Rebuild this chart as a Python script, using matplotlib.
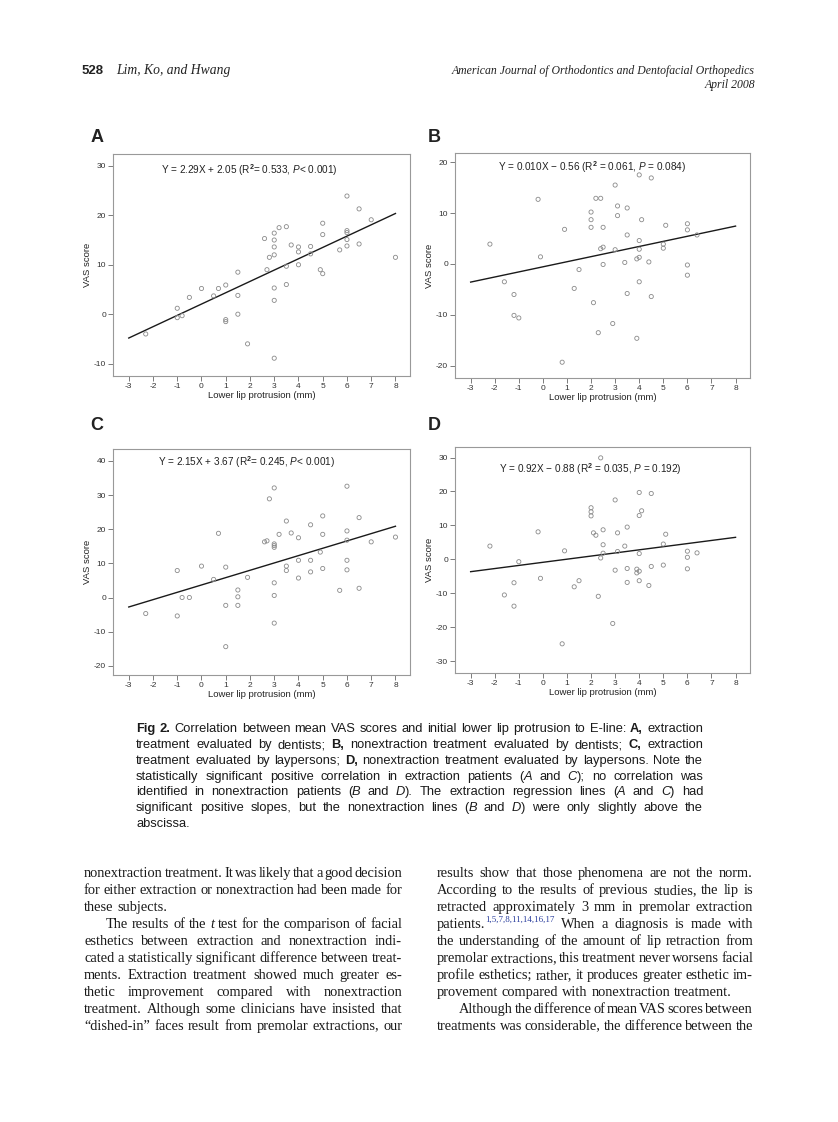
import re
import numpy as np
import matplotlib
matplotlib.use("Agg")
import matplotlib.pyplot as plt

W, H = 838, 1122

plt.rcParams['font.family'] = ['Liberation Sans', 'DejaVu Sans']
plt.rcParams['mathtext.fontset'] = 'custom'
plt.rcParams['mathtext.rm'] = 'Liberation Sans'
plt.rcParams['mathtext.it'] = 'Liberation Sans:italic'
plt.rcParams['mathtext.bf'] = 'Liberation Sans:bold'
plt.rcParams['axes.unicode_minus'] = False

# ---- data ----
x_ticks = [-3, -2, -1, 0, 1, 2, 3, 4, 5, 6, 7, 8]
fit_range = [-3, 8]

# A: extraction, dentists
a_x = [-2.3, -1, -1, -0.8, -0.5, 0, 0.5, 0.7, 1, 1, 1, 1.5, 1.5, 1.5, 1.9,
       2.6, 2.7, 2.8, 3, 3, 3, 3, 3, 3, 3, 3.2, 3.5, 3.5, 3.5, 3.7,
       4, 4, 4, 4.5, 4.5, 4.9, 5, 5, 5, 5.7, 6, 6, 6, 6, 6, 6.5, 6.5, 7, 8]
a_y = [-4, 1.2, -0.7, -0.3, 3.4, 5.2, 3.7, 5.2, 5.9, -1.1, -1.5, 8.5, 3.8, 0, -6,
       15.3, 9, 11.5, 16.4, 15, 13.6, 12, 5.3, 2.8, -8.9, 17.5, 17.7, 9.7, 6, 14,
       13.6, 12.6, 10, 13.7, 12.2, 9, 8.2, 18.4, 16.1, 13, 23.9, 16.9, 16.5, 15.1, 13.8,
       21.3, 14.2, 19.1, 11.5]
a_fit = (2.29, 2.05)
a_eq = r'Y = 2.29X + 2.05 (R$^{\mathbf{2}}$= 0.533, $P$< 0.001)'

# B: nonextraction, dentists
b_x = [-2.2, -1.6, -1.2, -1.2, -1.0, -0.2, -0.1, 0.9, 0.8, 1.3, 1.5,
       2, 2, 2, 2.1, 2.2, 2.4, 2.4, 2.5, 2.5, 2.5, 2.3, 2.9,
       3, 3, 3.1, 3.1, 3.5, 3.5, 3.5, 3.4, 3.9, 4, 4, 4, 4, 4, 3.9, 4.1,
       4.4, 4.5, 4.5, 5, 5, 5.1, 6, 6, 6, 6, 6.4]
b_y = [3.9, -3.5, -6.0, -10.1, -10.6, 12.7, 1.4, 6.8, -19.3, -4.8, -1.1,
       10.2, 8.7, 7.2, -7.6, 12.9, 12.9, 3.0, 3.3, 7.2, -0.1, -13.5, -11.7,
       15.5, 2.8, 11.4, 9.5, 11, 5.7, -5.8, 0.3, 1.0, 1.3, 4.6, 2.9, 17.5, -3.5, -14.6, 8.7,
       0.4, 16.9, -6.4, 3.9, 3.1, 7.6, 7.9, 6.7, -0.2, -2.2, 5.7]
b_fit = (1.00, -0.56)  # drawn line (label in the figure reads 0.010)
b_eq = r'Y = 0.010X $-$ 0.56 (R$^{\mathbf{2}}$ = 0.061, $P$ = 0.084)'

# C: extraction, laypersons
c_x = [-2.3, -1, -1, -0.8, -0.5, 0, 0.5, 0.7, 1, 1, 1, 1.5, 1.5, 1.5, 1.9,
       2.6, 2.7, 2.8, 3, 3, 3, 3, 3, 3, 3, 3.2, 3.5, 3.5, 3.5, 3.7,
       4, 4, 4, 4.5, 4.5, 4.5, 4.9, 5, 5, 5, 5.7, 6, 6, 6, 6, 6, 6.5, 6.5, 7, 8]
c_y = [-4.7, 7.9, -5.4, 0, 0, 9.2, 5.3, 18.8, 8.9, -2.3, -14.4, 2.2, 0.2, -2.3, 5.9,
       16.3, 16.6, 28.9, 32.1, 15.7, 15.2, 14.7, 4.3, 0.6, -7.5, 18.5, 22.4, 9.2, 7.9, 18.9,
       17.5, 10.9, 5.7, 21.3, 10.9, 7.5, 13.3, 23.9, 18.5, 8.5, 2.1, 32.6, 19.5, 16.8, 10.9,
       8.1, 23.4, 2.7, 16.3, 17.7]
c_fit = (2.15, 3.67)
c_eq = r'Y = 2.15X + 3.67 (R$^{\mathbf{2}}$= 0.245, $P$< 0.001)'

# D: nonextraction, laypersons
d_x = [-2.2, -1.6, -1.2, -1.2, -1.0, -0.2, -0.1, 0.9, 0.8, 1.3, 1.5,
       2, 2, 2, 2.1, 2.2, 2.4, 2.4, 2.3, 2.5, 2.5, 2.5, 2.9,
       3, 3, 3.1, 3.1, 3.5, 3.5, 3.5, 3.4, 3.9, 3.9, 4, 4, 4, 4, 4, 4.1,
       4.4, 4.5, 4.5, 5, 5, 5.1, 6, 6, 6, 6.4]
d_y = [3.9, -10.5, -6.9, -13.8, -0.7, 8.1, -5.6, 2.5, -24.9, -8.1, -6.3,
       15.2, 14.0, 12.8, 7.8, 7.1, 29.9, 0.4, -10.9, 8.7, 4.3, 1.8, -18.9,
       17.5, -3.2, 7.8, 2.3, 9.5, -2.7, -6.8, 3.9, -2.9, -4.0, -3.5, 19.7, 12.9, 1.7, -6.3, 14.3,
       -7.7, 19.4, -2.1, 4.5, -1.7, 7.4, 2.4, 0.6, -2.8, 1.9]
d_fit = (0.92, -0.88)
d_eq = r'Y = 0.92X $-$ 0.88 (R$^{\mathbf{2}}$ = 0.035, $P$ = 0.192)'

caption = [
    "{b:Fig} {b:2.}  Correlation between mean VAS scores and initial lower lip protrusion to E-line: {b:A,} extraction",
    "treatment evaluated by dentists; {b:B,} nonextraction treatment evaluated by dentists; {b:C,} extraction",
    "treatment evaluated by laypersons; {b:D,} nonextraction treatment evaluated by laypersons. Note the",
    "statistically significant positive correlation in extraction patients ({i:A} and {i:C}); no correlation was",
    "identified in nonextraction patients ({i:B} and {i:D}). The extraction regression lines ({i:A} and {i:C}) had",
    "significant positive slopes, but the nonextraction lines ({i:B} and {i:D}) were only slightly above the",
    "abscissa.",
]
left_col = [
    "nonextraction treatment. It was likely that a good decision",
    "for either extraction or nonextraction had been made for",
    "these subjects.",
    "The results of the {i:t} test for the comparison of facial",
    "esthetics between extraction and nonextraction indi-",
    "cated a statistically significant difference between treat-",
    "ments. Extraction treatment showed much greater es-",
    "thetic improvement compared with nonextraction",
    "treatment. Although some clinicians have insisted that",
    "\u201cdished-in\u201d faces result from premolar extractions, our",
]
right_col = [
    "results show that those phenomena are not the norm.",
    "According to the results of previous studies, the lip is",
    "retracted approximately 3 mm in premolar extraction",
    "patients.{s:1,5,7,8,11,14,16,17} When a diagnosis is made with",
    "the understanding of the amount of lip retraction from",
    "premolar extractions, this treatment never worsens facial",
    "profile esthetics; rather, it produces greater esthetic im-",
    "provement compared with nonextraction treatment.",
    "Although the difference of mean VAS scores between",
    "treatments was considerable, the difference between the",
]

fig = plt.figure(figsize=(W / 100, H / 100), dpi=100)
renderer = fig.canvas.get_renderer()


def fx(x):
    return x / W


def fy(y):
    return 1 - y / H


def panel(box, xs, ys, fit, eq, eq_pos, ylim, yticks, letter, letter_xy):
    l, t, r, b = box
    ax = fig.add_axes([fx(l), fy(b), (r - l) / W, (b - t) / H])
    ax.scatter(xs, ys, s=9, facecolors='none', edgecolors='#8a8a8a', linewidths=0.6, zorder=3)
    lx = np.array(fit_range, dtype=float)
    ax.plot(lx, fit[0] * lx + fit[1], color='#1a1a1a', lw=1.0, zorder=2)
    ax.set_xlim(-3.65, 8.6)
    ax.set_ylim(*ylim)
    ax.set_xticks(x_ticks)
    ax.set_yticks(yticks)
    ax.tick_params(labelsize=6.0, length=3.5, width=0.6, color='#666', labelcolor='#333', pad=1.5)
    for s in ax.spines.values():
        s.set_color('#999')
        s.set_linewidth(0.8)
    ax.set_xlabel('Lower lip protrusion (mm)', fontsize=6.8, color='#222', labelpad=0.5)
    ax.set_ylabel('VAS score', fontsize=6.8, color='#222', labelpad=1)
    ax.text(eq_pos[0], eq_pos[1], eq, transform=ax.transAxes, ha='center', va='center',
            fontsize=7.2, color='#222')
    fig.text(fx(letter_xy[0]), fy(letter_xy[1]), letter, fontsize=13, fontweight='bold',
             ha='center', va='center', color='#222')
    return ax


panel((113, 154, 410, 376), a_x, a_y, a_fit, a_eq, (0.46, 0.928), (-12.5, 32.4),
      [-10, 0, 10, 20, 30], 'A', (97, 137))
panel((455, 153, 750, 378), b_x, b_y, b_fit, b_eq, (0.463, 0.936), (-22.4, 21.8),
      [-20, -10, 0, 10, 20], 'B', (434, 137))
panel((113, 449, 410, 675), c_x, c_y, c_fit, c_eq, (0.449, 0.941), (-22.7, 43.5),
      [-20, -10, 0, 10, 20, 30, 40], 'C', (97, 425))
panel((455, 447, 750, 673), d_x, d_y, d_fit, d_eq, (0.458, 0.903), (-33.5, 33.1),
      [-30, -20, -10, 0, 10, 20, 30], 'D', (434, 425))

TOKEN = re.compile(r'\{([ibs]):([^}]*)\}|([^{]+)')


def make_runs(word, family, size, color):
    out = []
    for m in TOKEN.finditer(word):
        if m.group(1):
            txt, st = m.group(2), m.group(1)
        else:
            txt, st = m.group(3), 'r'
        kw = dict(family=family, fontsize=size, color=color, va='baseline', ha='left')
        if st == 'b':
            kw['fontweight'] = 'bold'
        elif st == 'i':
            kw['fontstyle'] = 'italic'
        elif st == 's':
            kw['fontsize'] = size * 0.62
            kw['color'] = '#2b3f9e'
        t = fig.text(0, 0, txt, **kw)
        out.append((t, st))
    return out


def text_block(lines, x0, x1, y0, step, family, size, color='#1a1a1a', last=(), indent=()):
    space = 0.25 * size * 100 / 72
    for i, line in enumerate(lines):
        y = y0 + i * step
        start = x0 + (22 if i in indent else 0)
        words = [make_runs(w, family, size, color) for w in line.split()]
        widths = []
        for runs in words:
            widths.append([t.get_window_extent(renderer).width for t, _ in runs])
        total = sum(sum(w) for w in widths)
        if i in last or len(words) == 1:
            gap = space
        else:
            gap = (x1 - start - total) / (len(words) - 1)
        x = start
        for runs, ws in zip(words, widths):
            for (t, st), w in zip(runs, ws):
                yy = y - (0.42 * size * 100 / 72 if st == 's' else 0)
                t.set_position((fx(x), fy(yy)))
                x += w
            x += gap


# header
fig.text(fx(82), fy(74), '528', fontsize=9.5, fontweight='bold', color='#222', va='baseline')
fig.text(fx(116), fy(74), 'Lim, Ko, and Hwang', family='Liberation Serif', fontstyle='italic',
         fontsize=9.8, color='#222', va='baseline')
fig.text(fx(755), fy(74), 'American Journal of Orthodontics and Dentofacial Orthopedics',
         family='Liberation Serif', fontstyle='italic', fontsize=8.5, color='#222',
         va='baseline', ha='right')
fig.text(fx(755), fy(88), 'April 2008', family='Liberation Serif', fontstyle='italic',
         fontsize=8.5, color='#222', va='baseline', ha='right')

text_block(caption, 136, 703, 732.3, 15.75, 'Liberation Sans', 9.3, last=(6,))
text_block(left_col, 84, 402, 877, 16.95, 'Liberation Serif', 10.4, last=(2,), indent=(3,))
text_block(right_col, 437, 753, 877, 16.95, 'Liberation Serif', 10.4, last=(7,), indent=(8,))

fig.savefig('out.png', dpi=100, facecolor='white')
